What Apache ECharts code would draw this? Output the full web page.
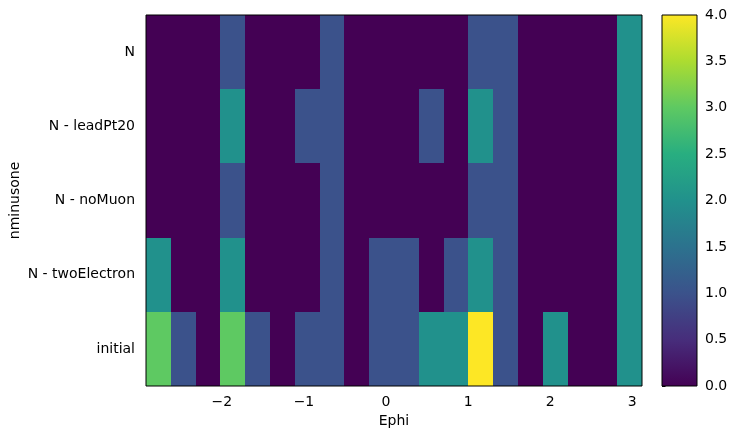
<!DOCTYPE html>
<html>
<head>
<meta charset="utf-8">
<title>nminusone vs Ephi</title>
<script src="https://cdn.jsdelivr.net/npm/echarts@6/dist/echarts.min.js"></script>
<style>
    html, body { margin: 0; padding: 0; background: #fff; }
    #hist-chart { width: 738px; height: 438px; }
</style>
</head>
<body>
<div id="hist-chart"></div>
<script>
// Ephi binning (outer edges of the histogram, 20 equal bins)
var ephiMin = -2.924;
var ephiMax = 3.118;
var ephiBins = 20;

// y categories, bottom to top
var cutNames = ['initial', 'N - twoElectron', 'N - noMuon', 'N - leadPt20', 'N'];

// counts per Ephi bin, one array per cut
var countsInitial     = [3, 1, 0, 3, 1, 0, 1, 1, 0, 1, 1, 2, 2, 4, 1, 0, 2, 0, 0, 2];
var countsTwoElectron = [2, 0, 0, 2, 0, 0, 0, 1, 0, 1, 1, 0, 1, 2, 1, 0, 0, 0, 0, 2];
var countsNoMuon      = [0, 0, 0, 1, 0, 0, 0, 1, 0, 0, 0, 0, 0, 1, 1, 0, 0, 0, 0, 2];
var countsLeadPt20    = [0, 0, 0, 2, 0, 0, 1, 1, 0, 0, 0, 1, 0, 2, 1, 0, 0, 0, 0, 2];
var countsN           = [0, 0, 0, 1, 0, 0, 0, 1, 0, 0, 0, 0, 0, 1, 1, 0, 0, 0, 0, 2];

// tick labels
var ephiTicks = [-2, -1, 0, 1, 2, 3];
var countMin = 0;
var countMax = 4;
var colorbarStep = 0.5;

var viridis = ['#440154', '#472d7b', '#3b528b', '#2c728e', '#21918c', '#28ae80', '#5ec962', '#addc30', '#fde725'];

var HistChart = {
    chart: null
};

/**
 * build [lo, hi, row, value] cells from the count arrays
 */
HistChart.buildCells = function () {
    var rows = [countsInitial, countsTwoElectron, countsNoMuon, countsLeadPt20, countsN];
    var width = (ephiMax - ephiMin) / ephiBins;
    var cells = [];
    for (var r = 0; r < rows.length; r++) {
        for (var i = 0; i < rows[r].length; i++) {
            var lo = ephiMin + i * width;
            cells.push([lo, lo + width, r, rows[r][i]]);
        }
    }
    return cells;
};

// snap edges to whole pixels so neighbouring cells meet without seams
HistChart.renderCell = function (params, api) {
    var p0 = api.coord([api.value(0), api.value(2)]);
    var p1 = api.coord([api.value(1), api.value(2)]);
    var h = api.size([0, 1])[1];
    var x0 = Math.round(p0[0]), x1 = Math.round(p1[0]);
    var y0 = Math.round(p0[1] - h / 2), y1 = Math.round(p0[1] + h / 2);
    return {
        type: 'rect',
        shape: {x: x0, y: y0, width: x1 - x0, height: y1 - y0},
        style: {fill: api.visual('color')}
    };
};

HistChart.renderColorbar = function (params, api) {
    var p0 = api.coord([0, countMin]);
    var p1 = api.coord([1, countMax]);
    var stops = viridis.map(function (c, i) {
        return {offset: i / (viridis.length - 1), color: c};
    });
    return {
        type: 'rect',
        shape: {x: p0[0], y: p1[1], width: p1[0] - p0[0], height: p0[1] - p1[1]},
        style: {
            fill: {type: 'linear', x: 0, y: 1, x2: 0, y2: 0, colorStops: stops},
            stroke: '#000',
            lineWidth: 1
        }
    };
};

HistChart.init = function () {
    HistChart.chart = echarts.init(document.getElementById('hist-chart'));
    var tickStyle = {length: 3.5, lineStyle: {color: '#000', width: 1}};
    HistChart.chart.setOption({
        animation: false,
        textStyle: {fontFamily: 'DejaVu Sans', color: '#000'},
        grid: [
            {left: 146, right: 96, top: 15, bottom: 52, show: true, z: 10, outerBoundsMode: 'none',
                backgroundColor: 'transparent', borderColor: '#000', borderWidth: 1},
            {left: 662, width: 35, top: 15, bottom: 52, outerBoundsMode: 'none'}
        ],
        visualMap: {
            show: false,
            type: 'continuous',
            min: countMin,
            max: countMax,
            dimension: 3,
            seriesIndex: 0,
            inRange: {color: viridis}
        },
        xAxis: [
            {
                type: 'value',
                gridIndex: 0,
                min: ephiMin,
                max: ephiMax,
                axisLine: {show: false},
                splitLine: {show: false},
                axisTick: Object.assign({customValues: ephiTicks}, tickStyle),
                axisLabel: {
                    customValues: ephiTicks,
                    margin: 9,
                    fontSize: 14,
                    color: '#000',
                    formatter: function (v) { return String(v).replace('-', '\u2212'); }
                },
                name: 'Ephi',
                nameLocation: 'middle',
                nameGap: 28,
                nameMoveOverlap: false,
                nameTextStyle: {fontSize: 14, color: '#000'}
            },
            {type: 'value', gridIndex: 1, min: 0, max: 1, show: false}
        ],
        yAxis: [
            {
                type: 'category',
                gridIndex: 0,
                data: cutNames,
                axisLine: {show: false},
                splitLine: {show: false},
                axisTick: Object.assign({alignWithLabel: true}, tickStyle),
                axisLabel: {margin: 11, fontSize: 14, color: '#000'},
                name: 'nminusone',
                nameLocation: 'middle',
                nameRotate: 90,
                nameGap: 124,
                nameMoveOverlap: false,
                nameTextStyle: {fontSize: 14, color: '#000'}
            },
            {
                type: 'value',
                gridIndex: 1,
                position: 'right',
                min: countMin,
                max: countMax,
                interval: colorbarStep,
                axisLine: {show: false},
                splitLine: {show: false},
                axisTick: tickStyle,
                axisLabel: {
                    margin: 8,
                    fontSize: 14,
                    color: '#000',
                    formatter: function (v) { return v.toFixed(1); }
                }
            }
        ],
        series: [
            {
                type: 'custom',
                xAxisIndex: 0,
                yAxisIndex: 0,
                renderItem: HistChart.renderCell,
                encode: {x: [0, 1], y: 2},
                clip: true,
                data: HistChart.buildCells()
            },
            {
                type: 'custom',
                xAxisIndex: 1,
                yAxisIndex: 1,
                renderItem: HistChart.renderColorbar,
                data: [[0, countMax]]
            }
        ]
    });
};

HistChart.init();
</script>
</body>
</html>
